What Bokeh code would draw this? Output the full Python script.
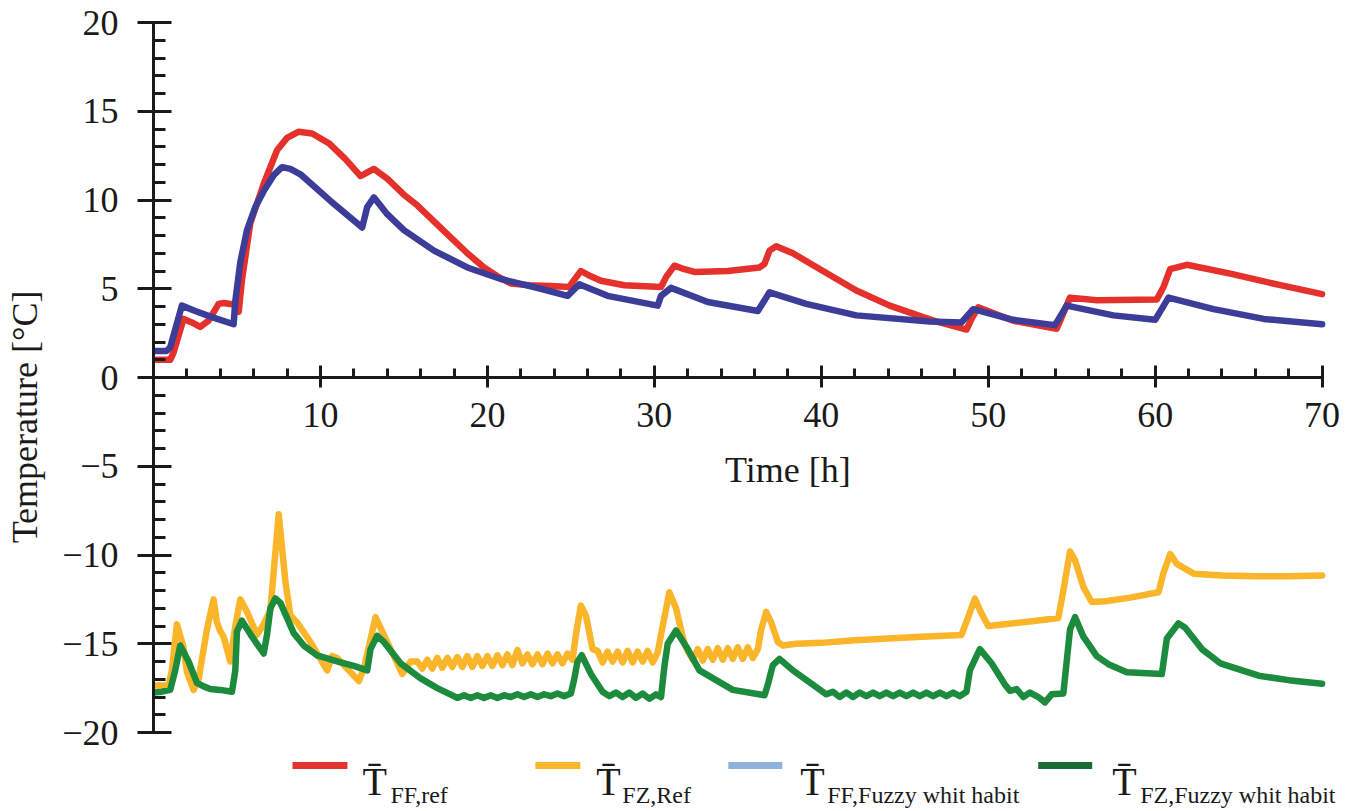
from bokeh.plotting import figure
from bokeh.models import Range1d, FixedTicker, Label, CustomJSTickFormatter
from bokeh.embed import file_html
from bokeh.resources import INLINE

# ---------------- data ----------------
ff_ref_t = [0, 1.0, 1.2, 1.8, 2.3, 2.8, 3.3, 3.9, 4.2, 4.9,
            5.1, 5.3, 5.8, 6.6, 7.4, 8.0, 8.7, 9.5, 10.5, 11.5,
            12.4, 13.2, 14.0, 15.0, 15.8, 16.8, 17.8, 18.8, 19.8, 20.6,
            21.4, 22.5, 23.8, 24.9, 25.2, 25.6, 26.2, 26.8, 28.2, 30.4,
            30.7, 31.2, 31.8, 32.4, 34.4, 36.3, 36.6, 36.9, 37.3, 38.3,
            40.1, 42.1, 44.1, 46.1, 47.1, 48.7, 49.0, 49.4, 51.5, 54.1,
            54.4, 54.9, 56.5, 60.1, 60.5, 60.9, 61.9, 64.5, 67.5, 70.0]
ff_ref = [1.0, 1.0, 1.4, 3.3, 3.1, 2.85, 3.2, 4.15, 4.2, 4.1,
          3.7, 5.5, 8.7, 10.9, 12.8, 13.5, 13.85, 13.75, 13.2, 12.3,
          11.35, 11.75, 11.2, 10.3, 9.7, 8.8, 7.9, 7.0, 6.2, 5.7,
          5.3, 5.2, 5.15, 5.1, 5.5, 6.0, 5.7, 5.45, 5.2, 5.1,
          5.65, 6.3, 6.1, 5.95, 6.0, 6.2, 6.4, 7.15, 7.4, 7.0,
          6.0, 4.9, 4.05, 3.4, 3.1, 2.7, 3.3, 3.95, 3.2, 2.75,
          3.4, 4.5, 4.35, 4.4, 5.1, 6.1, 6.35, 5.85, 5.2, 4.7]

ff_fuzzy_t = [0, 0.8, 1.0, 1.7, 2.5, 3.5, 4.8, 4.9, 5.2, 5.6,
              6.1, 6.6, 7.2, 7.7, 8.2, 8.8, 10.6, 12.5, 12.8, 13.2,
              14.0, 15.0, 16.8, 18.8, 20.8, 23.2, 24.8, 25.5, 27.2, 30.2,
              30.4, 31.0, 33.2, 36.2, 36.9, 39.1, 42.1, 46.5, 48.4, 49.1,
              51.5, 54.0, 54.7, 57.5, 60.0, 60.8, 63.5, 66.5, 70.0]
ff_fuzzy = [1.5, 1.5, 1.7, 4.05, 3.75, 3.4, 3.0, 4.3, 6.5, 8.3,
            9.6, 10.5, 11.4, 11.85, 11.75, 11.45, 9.95, 8.45, 9.6, 10.15,
            9.2, 8.3, 7.15, 6.2, 5.55, 5.0, 4.6, 5.25, 4.6, 4.05,
            4.6, 5.05, 4.25, 3.75, 4.8, 4.15, 3.5, 3.15, 3.1, 3.85,
            3.25, 2.95, 4.05, 3.5, 3.25, 4.5, 3.85, 3.3, 3.0]

fz_ref_t = [0, 0.9, 1.1, 1.4, 1.8, 2.0, 2.4, 2.7, 3.2, 3.6,
            3.8, 4.0, 4.2, 4.6, 4.9, 5.2, 5.6, 6.2, 6.6, 7.0,
            7.5, 7.9, 8.2, 8.6, 9.4, 10.4, 10.7, 11.0, 12.3, 12.6,
            13.3, 13.7, 14.9, 15.4,
            15.8, 16.1, 16.4, 16.7, 17.0, 17.3, 17.6, 17.9, 18.2, 18.5,
            18.8, 19.1, 19.4, 19.7, 20.0, 20.3, 20.6, 20.9, 21.2, 21.5,
            21.8, 22.1, 22.4, 22.7, 23.0, 23.3, 23.6, 23.9, 24.2, 24.5,
            24.8, 25.1,
            25.3, 25.6, 25.9, 26.3, 26.6, 26.9, 27.2, 27.5, 27.8, 28.1,
            28.4, 28.7, 29.0, 29.3, 29.6, 29.9, 30.2,
            30.5, 30.9, 31.3, 31.8, 32.0, 32.3, 32.6, 32.9, 33.2, 33.5,
            33.8, 34.1, 34.4, 34.7, 35.0, 35.3, 35.6, 35.9, 36.2,
            36.4, 36.7, 37.0, 37.4, 37.7, 38.5, 40.0, 42.0, 44.0, 46.0,
            48.4, 48.8, 49.2, 49.6, 50.0, 51.0, 52.5, 54.2, 54.5, 54.9,
            55.2, 55.7, 56.2, 57.0, 58.5, 60.2, 60.5, 60.9, 61.3, 62.3,
            64.0, 66.0, 68.0, 70.0]
fz_ref = [-17.35, -17.35, -16.5, -13.9, -15.2, -16.6, -17.6, -17.0, -14.2, -12.5,
          -13.8, -14.3, -14.6, -16.0, -14.0, -12.5, -13.2, -14.5, -13.9, -13.1,
          -7.7, -11.5, -13.4, -13.8, -14.9, -16.5, -15.7, -15.8, -17.1, -16.4,
          -13.5, -14.3, -16.7, -16.0,
          -16.0, -16.4, -15.9, -16.4, -15.8, -16.35, -15.8, -16.3, -15.75, -16.3,
          -15.7, -16.3, -15.7, -16.25, -15.7, -16.25, -15.65, -16.2, -15.6, -16.2,
          -15.35, -16.1, -15.6, -16.15, -15.6, -16.15, -15.55, -16.1, -15.6, -16.1,
          -15.55, -15.9,
          -14.5, -12.85, -13.4, -15.3, -15.4, -16.05, -15.45, -16.0, -15.45, -16.05,
          -15.4, -16.05, -15.45, -16.0, -15.4, -16.05, -15.5,
          -14.0, -12.1, -13.0, -15.0, -15.4, -15.9, -15.3, -15.95, -15.3, -15.9,
          -15.25, -15.9, -15.25, -15.85, -15.2, -15.85, -15.2, -15.8, -15.3,
          -14.2, -13.2, -13.8, -14.9, -15.1, -15.0, -14.95, -14.8, -14.7, -14.6,
          -14.5, -13.5, -12.45, -13.3, -14.0, -13.9, -13.75, -13.55, -12.0, -9.8,
          -10.3, -11.8, -12.65, -12.6, -12.4, -12.1, -11.0, -9.95, -10.5, -11.05,
          -11.15, -11.2, -11.2, -11.15]

fz_fuzzy_t = [0, 0.5, 1.0, 1.3, 1.6, 2.1, 2.6, 3.0, 3.4, 4.0,
              4.7, 4.9, 5.0, 5.3, 5.9, 6.6, 6.8, 7.0, 7.3, 7.6,
              8.4, 9.0, 9.8, 11.2, 12.0, 12.8, 13.0, 13.4, 13.8, 14.8,
              16.0, 17.0, 18.2,
              18.6, 19.0, 19.4, 19.8, 20.2, 20.6, 21.0, 21.4, 21.8, 22.2,
              22.6, 23.0, 23.4, 23.8, 24.2, 24.6, 25.0,
              25.2, 25.4, 25.65, 26.2, 26.9, 27.3, 27.7, 28.1, 28.5, 28.9,
              29.3, 29.7, 30.1, 30.4,
              30.6, 30.8, 31.3, 32.0, 32.7, 34.7, 36.6, 36.8, 37.1, 37.5,
              38.3, 39.2, 40.3,
              40.7, 41.1, 41.5, 41.9, 42.3, 42.7, 43.1, 43.5, 43.9, 44.3,
              44.7, 45.1, 45.5, 45.9, 46.3, 46.7, 47.1, 47.5, 47.9, 48.3,
              48.7,
              48.9, 49.2, 49.5, 50.2, 51.0, 51.3, 51.7, 52.1, 52.5, 53.0,
              53.4, 53.8, 54.5,
              54.7, 54.9, 55.2, 55.7, 56.5, 57.2, 58.3, 60.4, 60.7, 61.4,
              61.8, 62.8, 63.9, 66.2, 68.0, 70.0]
fz_fuzzy = [-17.75, -17.7, -17.6, -16.5, -15.1, -16.0, -17.2, -17.4, -17.55, -17.6,
            -17.7, -16.5, -14.3, -13.7, -14.6, -15.55, -14.5, -13.0, -12.45, -12.7,
            -14.4, -15.1, -15.65, -16.05, -16.25, -16.5, -15.3, -14.55, -14.9, -16.1,
            -16.95, -17.5, -18.05,
            -17.9, -18.05, -17.9, -18.05, -17.9, -18.05, -17.9, -18.0, -17.85, -18.0,
            -17.85, -18.0, -17.85, -17.95, -17.8, -17.95, -17.8,
            -17.0, -16.0, -15.65, -16.7, -17.7, -17.95, -17.75, -18.0, -17.75, -18.05,
            -17.8, -18.1, -17.85, -18.0,
            -16.3, -15.0, -14.25, -15.3, -16.5, -17.6, -17.9, -17.3, -16.2, -15.85,
            -16.5, -17.1, -17.85,
            -17.7, -18.0, -17.75, -18.0, -17.75, -17.95, -17.75, -17.95, -17.75, -17.95,
            -17.75, -17.95, -17.75, -17.95, -17.75, -17.95, -17.75, -17.95, -17.75, -17.95,
            -17.7,
            -16.5, -15.9, -15.3, -16.1, -17.3, -17.65, -17.55, -18.0, -17.75, -18.0,
            -18.3, -17.85, -17.8,
            -16.0, -14.2, -13.5, -14.6, -15.7, -16.15, -16.6, -16.7, -14.7, -13.85,
            -14.1, -15.3, -16.1, -16.8, -17.05, -17.25]

x_major_ticks = [10, 20, 30, 40, 50, 60, 70]
y_major_ticks = [-20, -15, -10, -5, 0, 5, 10, 15, 20]

legend_subscripts = ["FF,ref", "FZ,Ref", "FF,Fuzzy whit habit", "FZ,Fuzzy whit habit"]

# ---------------- styling ----------------
FONT = "Liberation Serif"
INK = "#1a1a1a"
C_FF_REF = "#e5312b"
C_FZ_REF = "#fbb52a"
C_FF_FUZZY = "#3b3d98"
C_FZ_FUZZY = "#1d8b3d"
LEGEND_COLORS = ["#e3342f", "#f9b72c", "#8fb2dd", "#1c6a35"]

p = figure(width=1357, height=811,
           x_range=Range1d(0, 72), y_range=Range1d(-24.45, 20),
           output_backend="svg", toolbar_location=None,
           min_border_left=153, min_border_right=1357 - 153 - int(round(72 * 16.7)),
           min_border_top=22, min_border_bottom=0)
p.outline_line_color = None
p.grid.visible = False
p.background_fill_color = "white"
p.border_fill_color = "white"

xa = p.xaxis[0]
xa.fixed_location = 0
xa.bounds = (0, 70)
xa.ticker = FixedTicker(ticks=x_major_ticks, minor_ticks=list(range(2, 70, 2)))
ya = p.yaxis[0]
ya.bounds = (-20, 20)
ya.ticker = FixedTicker(ticks=y_major_ticks, minor_ticks=list(range(-20, 21)))
ya.formatter = CustomJSTickFormatter(
    code="return tick < 0 ? '\\u2212' + Math.abs(tick) : String(tick);")
ya.axis_label = "Temperature [°C]"
ya.axis_label_text_font = FONT
ya.axis_label_text_font_size = "36px"
ya.axis_label_text_font_style = "normal"
ya.axis_label_text_color = INK
ya.axis_label_standoff = 14

for ax in (xa, ya):
    ax.axis_line_color = INK
    ax.axis_line_width = 3
    ax.major_tick_line_color = INK
    ax.major_tick_line_width = 3
    ax.minor_tick_line_color = INK
    ax.minor_tick_line_width = 3
    ax.major_label_text_font = FONT
    ax.major_label_text_font_size = "36px"
    ax.major_label_text_color = INK

xa.major_tick_in = 12
xa.major_tick_out = 10
xa.minor_tick_in = 9
xa.minor_tick_out = 0
xa.major_label_standoff = 15

ya.major_tick_in = 18
ya.major_tick_out = 16
ya.minor_tick_in = 12
ya.minor_tick_out = 0
ya.major_label_standoff = 19

lw = 6.5
p.line(ff_ref_t, ff_ref, line_color=C_FF_REF, line_width=lw, line_join="round", line_cap="round")
p.line(ff_fuzzy_t, ff_fuzzy, line_color=C_FF_FUZZY, line_width=lw, line_join="round", line_cap="round")
p.line(fz_ref_t, fz_ref, line_color=C_FZ_REF, line_width=lw, line_join="round", line_cap="round")
p.line(fz_fuzzy_t, fz_fuzzy, line_color=C_FZ_FUZZY, line_width=lw, line_join="round", line_cap="round")

# x axis title (axis drawn at y = 0)
p.add_layout(Label(x=35, y=0, x_offset=50, y_offset=-92, text="Time [h]",
                   text_align="center", text_baseline="middle",
                   text_font=FONT, text_font_size="36px", text_color=INK))

# ---------------- legend (layout in page pixels, converted to data) ----------------
def dx(px):
    return (px - 153) / 16.7

def dy(py):
    return (377 - py) / 17.75

swatch_px = [(292, 347), (535, 580), (728, 782), (1038, 1092)]
tbar_px = [362, 596, 800, 1112]
sub_px = [390, 622, 827, 1140]

p.segment(x0=[dx(a) for a, b in swatch_px], x1=[dx(b) for a, b in swatch_px],
          y0=[dy(765)] * 4, y1=[dy(765)] * 4,
          line_color=LEGEND_COLORS, line_width=7)
for tx, sx, sub in zip(tbar_px, sub_px, legend_subscripts):
    p.add_layout(Label(x=dx(tx), y=dy(781), text="T\u0304", text_align="left",
                       text_baseline="alphabetic", text_font=FONT,
                       text_font_size="40px", text_color=INK))
    p.add_layout(Label(x=dx(sx), y=dy(794), text=sub, text_align="left",
                       text_baseline="alphabetic", text_font=FONT,
                       text_font_size="24px", text_color=INK))

open("out.html", "w").write(file_html(p, INLINE))
